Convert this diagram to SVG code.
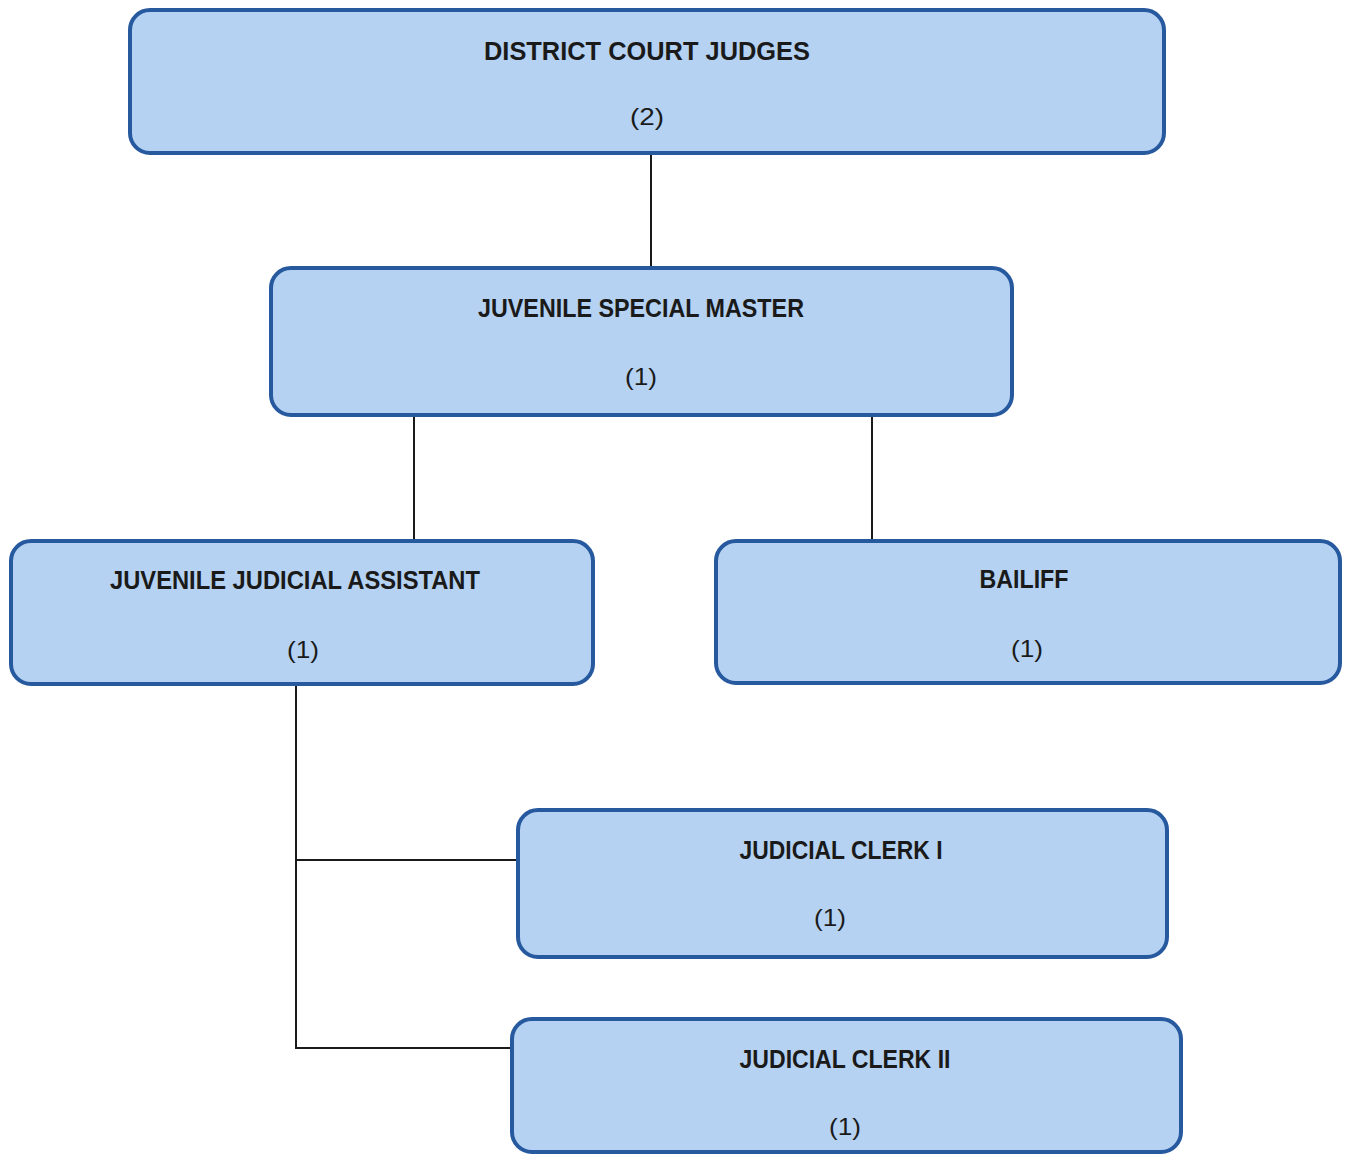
<svg xmlns="http://www.w3.org/2000/svg" width="1345" height="1154" viewBox="0 0 1345 1154">
  <style>
    .box { fill: #b5d2f3; stroke: #27599f; stroke-width: 4; }
    .title { font-family: "Liberation Sans", Arial, sans-serif; font-weight: bold; font-size: 25px; fill: #1a1a1a; text-anchor: middle; }
    .count { font-family: "Liberation Sans", Arial, sans-serif; font-size: 24px; fill: #1a1a1a; text-anchor: middle; }
    .link { fill: none; stroke: #1a1a1a; stroke-width: 2; }
  </style>
  <rect width="1345" height="1154" fill="#ffffff"/>

  <!-- reporting lines -->
  <g id="connectors">
    <line class="link" x1="651" y1="153" x2="651" y2="268"/>
    <line class="link" x1="414" y1="415" x2="414" y2="541"/>
    <line class="link" x1="872" y1="415" x2="872" y2="541"/>
    <polyline class="link" points="296,684 296,1048 512,1048"/>
    <line class="link" x1="296" y1="860" x2="518" y2="860"/>
  </g>

  <g id="district-court-judges">
    <rect class="box" x="130" y="10" width="1034" height="143" rx="20"/>
    <text class="title" x="647" y="60" textLength="326" lengthAdjust="spacingAndGlyphs">DISTRICT COURT JUDGES</text>
    <text class="count" x="647" y="125" textLength="34" lengthAdjust="spacingAndGlyphs">(2)</text>
  </g>

  <g id="juvenile-special-master">
    <rect class="box" x="271" y="268" width="741" height="147" rx="20"/>
    <text class="title" x="641" y="317" textLength="326" lengthAdjust="spacingAndGlyphs">JUVENILE SPECIAL MASTER</text>
    <text class="count" x="641" y="385" textLength="32" lengthAdjust="spacingAndGlyphs">(1)</text>
  </g>

  <g id="juvenile-judicial-assistant">
    <rect class="box" x="11" y="541" width="582" height="143" rx="20"/>
    <text class="title" x="295" y="589" textLength="370" lengthAdjust="spacingAndGlyphs">JUVENILE JUDICIAL ASSISTANT</text>
    <text class="count" x="303" y="658" textLength="32" lengthAdjust="spacingAndGlyphs">(1)</text>
  </g>

  <g id="bailiff">
    <rect class="box" x="716" y="541" width="624" height="142" rx="20"/>
    <text class="title" x="1024" y="588" textLength="89" lengthAdjust="spacingAndGlyphs">BAILIFF</text>
    <text class="count" x="1027" y="657" textLength="32" lengthAdjust="spacingAndGlyphs">(1)</text>
  </g>

  <g id="judicial-clerk-i">
    <rect class="box" x="518" y="810" width="649" height="147" rx="20"/>
    <text class="title" x="841" y="859" textLength="203" lengthAdjust="spacingAndGlyphs">JUDICIAL CLERK I</text>
    <text class="count" x="830" y="926" textLength="32" lengthAdjust="spacingAndGlyphs">(1)</text>
  </g>

  <g id="judicial-clerk-ii">
    <rect class="box" x="512" y="1019" width="669" height="133" rx="20"/>
    <text class="title" x="845" y="1068" textLength="211" lengthAdjust="spacingAndGlyphs">JUDICIAL CLERK II</text>
    <text class="count" x="845" y="1135" textLength="32" lengthAdjust="spacingAndGlyphs">(1)</text>
  </g>
</svg>
